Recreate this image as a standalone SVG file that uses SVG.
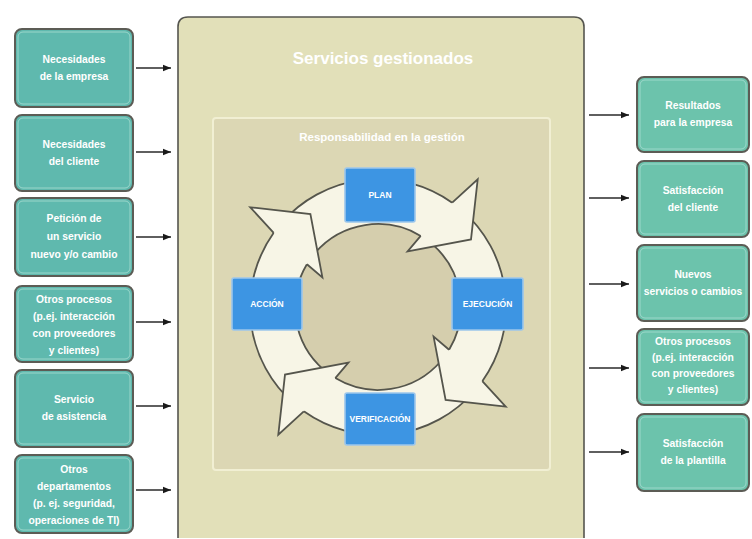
<svg xmlns="http://www.w3.org/2000/svg" xmlns:xlink="http://www.w3.org/1999/xlink" width="752" height="539" viewBox="0 0 752 539">
  <style>
    .side { fill: #5fb9ae; stroke: #5c5c55; stroke-width: 2; }
    .sideR { fill: #6cc3ac; stroke: #5c5c55; stroke-width: 2; }
    .sideIn { fill: none; stroke: #a9ddd2; stroke-width: 1; opacity: 0.8; }
    .lbl { font-family: "Liberation Sans", Arial, sans-serif; font-weight: bold; font-size: 10.3px; fill: #ffffff; text-anchor: middle; }
    .step { fill: #3d95e3; stroke: #9cc6ec; stroke-width: 1.6; }
    .stepTxt { font-family: "Liberation Sans", Arial, sans-serif; font-weight: bold; font-size: 8.5px; fill: #ffffff; text-anchor: middle; }
    .conn { stroke: #2a2a2a; stroke-width: 1.4; fill: none; marker-end: url(#ah); }
    .edge { fill: none; stroke: #55554c; stroke-width: 1.8; stroke-linejoin: round; }
    .head { fill: #f7f5e6; stroke: #55554c; stroke-width: 1.8; stroke-linejoin: miter; }
  </style>
  <defs>
    <marker id="ah" viewBox="0 0 10 10" refX="10" refY="5" markerWidth="9" markerHeight="8" markerUnits="userSpaceOnUse" orient="auto">
      <path d="M0,1 L10,5 L0,9 Z" fill="#1a1a1a"/>
    </marker>
    <!-- ring edges for one quarter of the cycle (centre 378,307) -->
    <g id="quarterEdges">
      <path class="edge" d="M281.4,223.0 A128,128 0 0 1 452.2,202.7"/>
      <path class="edge" d="M315.4,252.5 A83,83 0 0 1 420.7,235.9"/>
    </g>
    <!-- arrowhead for one quarter of the cycle -->
    <path id="quarterHead" class="head" d="M452.2,202.7 L477.7,179.3 L471.0,239.4 L407.6,251.4 L420.7,235.9"/>
  </defs>

  <rect width="752" height="539" fill="#ffffff"/>

  <!-- Managed services panel -->
  <g id="panel">
    <path d="M178,538 L178,27 Q178,17 188,17 L574,17 Q584,17 584,27 L584,538" fill="#e2e0b9" stroke="#55554f" stroke-width="1.6"/>
    <text x="383" y="64" font-family="'Liberation Sans', Arial, sans-serif" font-weight="bold" font-size="17" fill="#ffffff" text-anchor="middle">Servicios gestionados</text>
  </g>

  <g id="management">
    <rect x="213" y="118" width="337" height="352" rx="3" fill="#dcd7b4" stroke="#f1efd3" stroke-width="2"/>
    <text x="382" y="141" font-family="'Liberation Sans', Arial, sans-serif" font-weight="bold" font-size="11.5" fill="#ffffff" text-anchor="middle">Responsabilidad en la gestión</text>
  </g>

  <!-- PDCA cycle ring -->
  <g id="cycle">
    <circle cx="378" cy="307" r="83" fill="#d5cead"/>
    <circle cx="378" cy="307" r="105.5" fill="none" stroke="#f7f5e6" stroke-width="45"/>
    <use xlink:href="#quarterEdges"/>
    <use xlink:href="#quarterEdges" transform="rotate(90 378 307)"/>
    <use xlink:href="#quarterEdges" transform="rotate(180 378 307)"/>
    <use xlink:href="#quarterEdges" transform="rotate(270 378 307)"/>
    <use xlink:href="#quarterHead"/>
    <use xlink:href="#quarterHead" transform="rotate(90 378 307)"/>
    <use xlink:href="#quarterHead" transform="rotate(180 378 307)"/>
    <use xlink:href="#quarterHead" transform="rotate(270 378 307)"/>
  </g>

  <g id="plan">
    <rect class="step" x="345" y="168" width="70" height="54" rx="2"/>
    <text class="stepTxt" x="380" y="198">PLAN</text>
  </g>
  <g id="ejecucion">
    <rect class="step" x="452" y="278" width="71" height="52" rx="2"/>
    <text class="stepTxt" x="487.5" y="307">EJECUCIÓN</text>
  </g>
  <g id="verificacion">
    <rect class="step" x="345" y="393" width="70" height="52" rx="2"/>
    <text class="stepTxt" x="380" y="422">VERIFICACIÓN</text>
  </g>
  <g id="accion">
    <rect class="step" x="232" y="278" width="70" height="52" rx="2"/>
    <text class="stepTxt" x="267" y="307">ACCIÓN</text>
  </g>

  <!-- Inputs -->
  <g id="in-empresa">
    <rect class="side" x="15" y="29" width="118" height="78" rx="7"/>
    <rect class="sideIn" x="18" y="32" width="112" height="72" rx="5"/>
    <text class="lbl" x="74" y="63">Necesidades</text>
    <text class="lbl" x="74" y="80">de la empresa</text>
  </g>
  <g id="in-cliente">
    <rect class="side" x="15" y="115" width="118" height="76" rx="7"/>
    <rect class="sideIn" x="18" y="118" width="112" height="70" rx="5"/>
    <text class="lbl" x="74" y="148">Necesidades</text>
    <text class="lbl" x="74" y="165">del cliente</text>
  </g>
  <g id="in-peticion">
    <rect class="side" x="15" y="198" width="118" height="78" rx="7"/>
    <rect class="sideIn" x="18" y="201" width="112" height="72" rx="5"/>
    <text class="lbl" x="74" y="222">Petición de</text>
    <text class="lbl" x="74" y="240">un servicio</text>
    <text class="lbl" x="74" y="258">nuevo y/o cambio</text>
  </g>
  <g id="in-procesos">
    <rect class="side" x="15" y="286" width="118" height="76" rx="7"/>
    <rect class="sideIn" x="18" y="289" width="112" height="70" rx="5"/>
    <text class="lbl" x="74" y="303">Otros procesos</text>
    <text class="lbl" x="74" y="320">(p.ej. interacción</text>
    <text class="lbl" x="74" y="337">con proveedores</text>
    <text class="lbl" x="74" y="354">y clientes)</text>
  </g>
  <g id="in-asistencia">
    <rect class="side" x="15" y="370" width="118" height="77" rx="7"/>
    <rect class="sideIn" x="18" y="373" width="112" height="71" rx="5"/>
    <text class="lbl" x="74" y="403">Servicio</text>
    <text class="lbl" x="74" y="420">de asistencia</text>
  </g>
  <g id="in-departamentos">
    <rect class="side" x="15" y="455" width="118" height="78" rx="7"/>
    <rect class="sideIn" x="18" y="458" width="112" height="72" rx="5"/>
    <text class="lbl" x="74" y="473">Otros</text>
    <text class="lbl" x="74" y="490">departamentos</text>
    <text class="lbl" x="74" y="507">(p. ej. seguridad,</text>
    <text class="lbl" x="74" y="524">operaciones de TI)</text>
  </g>

  <!-- Outputs -->
  <g id="out-resultados">
    <rect class="sideR" x="637" y="77" width="112" height="75" rx="7"/>
    <rect class="sideIn" x="640" y="80" width="106" height="69" rx="5"/>
    <text class="lbl" x="693" y="109">Resultados</text>
    <text class="lbl" x="693" y="126">para la empresa</text>
  </g>
  <g id="out-satisfaccion-cliente">
    <rect class="sideR" x="637" y="161" width="112" height="76" rx="7"/>
    <rect class="sideIn" x="640" y="164" width="106" height="70" rx="5"/>
    <text class="lbl" x="693" y="194">Satisfacción</text>
    <text class="lbl" x="693" y="211">del cliente</text>
  </g>
  <g id="out-nuevos">
    <rect class="sideR" x="637" y="245" width="112" height="76" rx="7"/>
    <rect class="sideIn" x="640" y="248" width="106" height="70" rx="5"/>
    <text class="lbl" x="693" y="278">Nuevos</text>
    <text class="lbl" x="693" y="295" font-size="9.8">servicios o cambios</text>
  </g>
  <g id="out-procesos">
    <rect class="sideR" x="637" y="329" width="112" height="76" rx="7"/>
    <rect class="sideIn" x="640" y="332" width="106" height="70" rx="5"/>
    <text class="lbl" x="693" y="345">Otros procesos</text>
    <text class="lbl" x="693" y="361">(p.ej. interacción</text>
    <text class="lbl" x="693" y="377">con proveedores</text>
    <text class="lbl" x="693" y="393">y clientes)</text>
  </g>
  <g id="out-plantilla">
    <rect class="sideR" x="637" y="414" width="112" height="77" rx="7"/>
    <rect class="sideIn" x="640" y="417" width="106" height="71" rx="5"/>
    <text class="lbl" x="693" y="447">Satisfacción</text>
    <text class="lbl" x="693" y="464">de la plantilla</text>
  </g>

  <!-- Connectors -->
  <g id="connectors">
    <line class="conn" x1="136" y1="68" x2="171" y2="68"/>
    <line class="conn" x1="136" y1="152" x2="171" y2="152"/>
    <line class="conn" x1="136" y1="237" x2="171" y2="237"/>
    <line class="conn" x1="136" y1="322" x2="171" y2="322"/>
    <line class="conn" x1="136" y1="406" x2="171" y2="406"/>
    <line class="conn" x1="136" y1="490" x2="171" y2="490"/>
    <line class="conn" x1="589" y1="115" x2="629" y2="115"/>
    <line class="conn" x1="589" y1="198" x2="629" y2="198"/>
    <line class="conn" x1="589" y1="284" x2="629" y2="284"/>
    <line class="conn" x1="589" y1="368" x2="629" y2="368"/>
    <line class="conn" x1="589" y1="452" x2="629" y2="452"/>
  </g>
</svg>
